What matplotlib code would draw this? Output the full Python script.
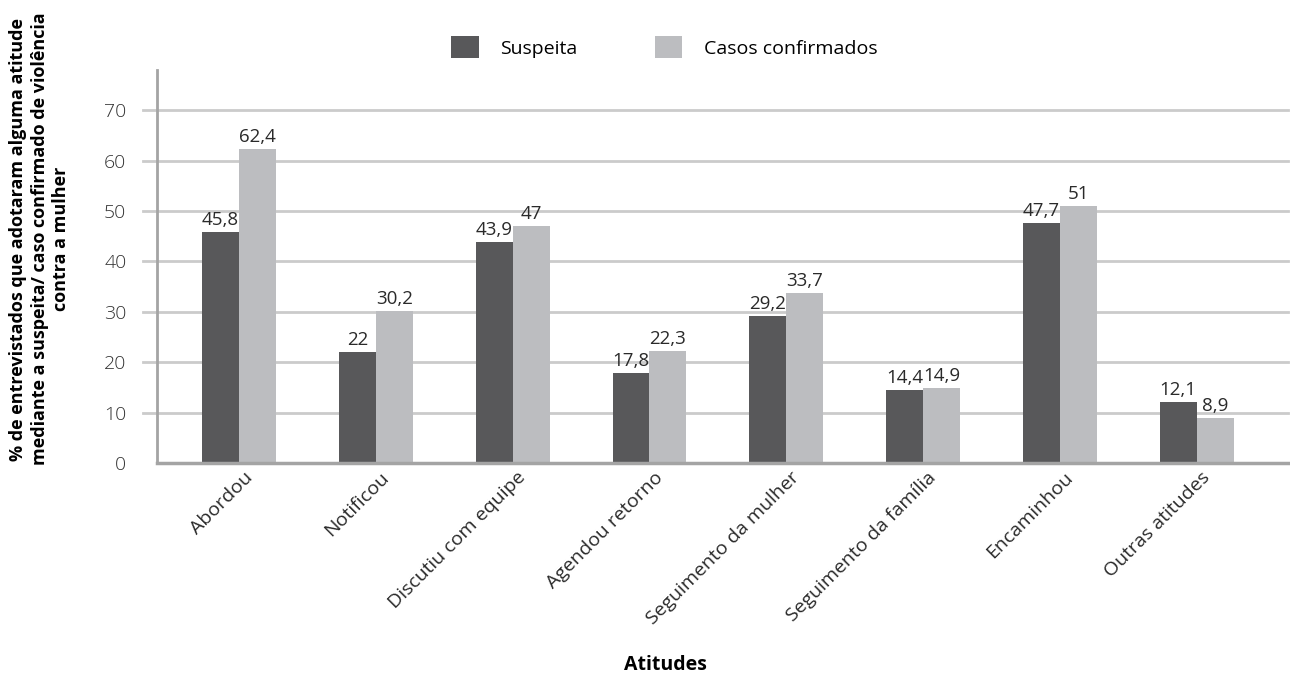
import numpy as np
import matplotlib.pyplot as plt
from matplotlib.patches import Patch

atitudes = ["Abordou", "Notificou", "Discutiu com equipe", "Agendou retorno",
            "Seguimento da mulher", "Seguimento da família", "Encaminhou",
            "Outras atitudes"]
suspeita = [45.8, 22, 43.9, 17.8, 29.2, 14.4, 47.7, 12.1]
confirmados = [62.4, 30.2, 47, 22.3, 33.7, 14.9, 51, 8.9]
yticks = [0, 10, 20, 30, 40, 50, 60, 70]

DARK = "#58585a"
LIGHT = "#bcbdc0"
GRID = "#cbcbcb"
AXIS = "#a4a4a4"

plt.rcParams["font.family"] = ["Open Sans", "DejaVu Sans"]


def fmt(v):
    return f"{v:g}".replace(".", ",")


fig = plt.figure(figsize=(12.9, 6.93), dpi=100)
ax = fig.add_axes([0.1217, 0.332, 0.877, 0.567])

x = np.arange(len(atitudes))
w = 0.27
b1 = ax.bar(x - w / 2, suspeita, w, color=DARK, zorder=3)
b2 = ax.bar(x + w / 2, confirmados, w, color=LIGHT, zorder=3)

for bars, vals in ((b1, suspeita), (b2, confirmados)):
    for rect, v in zip(bars, vals):
        ax.text(rect.get_x() + rect.get_width() / 2, v + 0.6, fmt(v),
                ha="center", va="bottom", fontsize=13.5, color="#2a2a2a")

ax.set_xlim(-0.6, len(atitudes) - 0.33)
ax.set_ylim(0, 78)
ax.set_yticks(yticks)
ax.set_yticklabels([str(t) for t in yticks], fontsize=14, color="#333333",
                   fontweight="light")
ax.tick_params(axis="y", length=0, pad=22)
ax.tick_params(axis="x", length=0, pad=4)
ax.set_xticks(x + 0.03)
ax.set_xticklabels(atitudes, rotation=45, ha="right", rotation_mode="anchor",
                   fontsize=14, color="#2a2a2a")

for t in yticks[1:]:
    ax.axhline(t, color=GRID, lw=2, zorder=1, xmin=-0.012, clip_on=False)

for s in ("top", "right"):
    ax.spines[s].set_visible(False)
ax.spines["left"].set_color(AXIS)
ax.spines["left"].set_linewidth(2)
ax.spines["bottom"].set_color(AXIS)
ax.spines["bottom"].set_linewidth(2.5)
ax.spines["bottom"].set_zorder(4)

fig.text(0.031, 0.655, "% de entrevistados que adotaram alguma atitude\n"
         "mediante a suspeita/ caso confirmado de violência\n"
         "contra a mulher", rotation=90, ha="center", va="center",
         multialignment="center", fontsize=13, fontweight="bold",
         linespacing=1.25)
fig.text(0.516, 0.04, "Atitudes", ha="center", va="center",
         fontsize=14, fontweight="bold")

handles = [Patch(facecolor=DARK, label="Suspeita"),
           Patch(facecolor=LIGHT, label="Casos confirmados")]
fig.legend(handles=handles, loc="center", bbox_to_anchor=(0.515, 0.932),
           ncol=2, frameon=False, fontsize=14, handlelength=1.4,
           handleheight=1.4, columnspacing=4.0, handletextpad=1.1)

fig.savefig("out.png", dpi=100)
